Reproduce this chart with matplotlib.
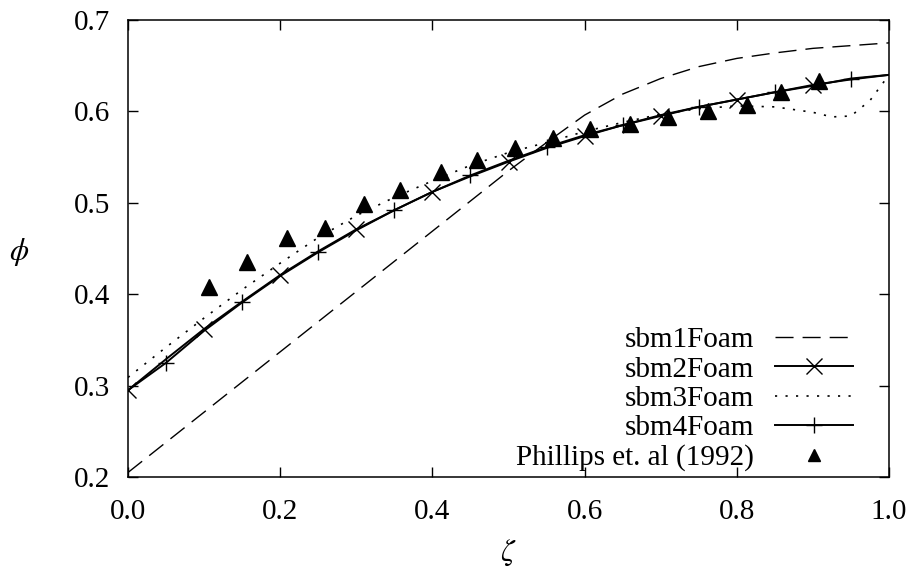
import numpy as np
import matplotlib
matplotlib.use("Agg")
import matplotlib.pyplot as plt
from matplotlib.lines import Line2D

plt.rcParams["font.family"] = "serif"
plt.rcParams["font.serif"] = ["Liberation Serif", "DejaVu Serif"]
plt.rcParams["mathtext.fontset"] = "stix"

# common grid for the model curves (step 0.05)
zeta = np.linspace(0.0, 1.0, 21)

sbm1 = [0.205, 0.238, 0.271, 0.304, 0.337, 0.370, 0.403, 0.436, 0.469, 0.502,
        0.535, 0.566, 0.596, 0.619, 0.636, 0.649, 0.658, 0.664, 0.669, 0.672, 0.675]
sbm2 = [0.295, 0.329, 0.362, 0.392, 0.421, 0.447, 0.471, 0.492, 0.512, 0.529,
        0.545, 0.560, 0.573, 0.585, 0.595, 0.605, 0.613, 0.621, 0.629, 0.635, 0.640]
sbm4 = [0.295, 0.325, 0.360, 0.391, 0.420, 0.446, 0.470, 0.492, 0.512, 0.530,
        0.546, 0.561, 0.574, 0.585, 0.596, 0.605, 0.613, 0.621, 0.628, 0.636, 0.640]

# sbm3 has a wiggle near the wall, so it gets its own grid
zeta3 = [0.0, 0.05, 0.1, 0.15, 0.2, 0.25, 0.3, 0.35, 0.4, 0.45, 0.5, 0.55, 0.6,
         0.65, 0.7, 0.75, 0.8, 0.85, 0.875, 0.9, 0.925, 0.95, 0.975, 1.0]
sbm3 = [0.309, 0.342, 0.374, 0.405, 0.434, 0.462, 0.486, 0.506, 0.524, 0.541,
        0.555, 0.566, 0.578, 0.588, 0.597, 0.603, 0.606, 0.605, 0.602, 0.599,
        0.594, 0.595, 0.612, 0.640]

# experimental data
exp_zeta = [0.107, 0.156, 0.209, 0.259, 0.310, 0.357, 0.411, 0.458, 0.508, 0.559,
            0.607, 0.660, 0.710, 0.762, 0.813, 0.858, 0.908]
exp_phi = [0.408, 0.435, 0.461, 0.473, 0.499, 0.514, 0.534, 0.547, 0.560, 0.571,
           0.581, 0.586, 0.594, 0.600, 0.607, 0.621, 0.633]

labels = ["sbm1Foam", "sbm2Foam", "sbm3Foam", "sbm4Foam", "Phillips et. al (1992)"]

fig = plt.figure(figsize=(9.11, 5.72), dpi=100)
ax = fig.add_axes([0.1405, 0.166, 0.8354, 0.799])

dash = (0, (13, 6.5))
dots = (0, (1.3, 5.0))

ax.plot(zeta, sbm1, color="k", lw=1.0, ls=dash)
ax.plot(zeta, sbm2, color="k", lw=1.4)
ax.plot(zeta[:19:2], sbm2[:19:2], ls="none", marker="x", ms=11, mew=1.0, color="k")
ax.plot(zeta3, sbm3, color="k", lw=1.2, ls=dots)
ax.plot(zeta, sbm4, color="k", lw=1.4)
ax.plot(zeta[1::2], sbm4[1::2], ls="none", marker="+", ms=12, mew=1.0, color="k")
ax.plot(exp_zeta, exp_phi, ls="none", marker="^", ms=11, color="k")

handles = [
    Line2D([], [], color="k", lw=1.0, ls=dash),
    Line2D([], [], color="k", lw=1.4, marker="x", ms=11, mew=1.0),
    Line2D([], [], color="k", lw=1.2, ls=dots),
    Line2D([], [], color="k", lw=1.4, marker="+", ms=12, mew=1.0),
    Line2D([], [], ls="none", marker="^", ms=9, color="k"),
]
ax.legend(handles, labels, loc="lower right", bbox_to_anchor=(0.953, 0.013),
          frameon=False, markerfirst=False, fontsize=21, handlelength=2.7,
          handletextpad=0.7, labelspacing=0.1, borderaxespad=0.0, borderpad=0.0)

ax.set_xlim(0, 1)
ax.set_ylim(0.2, 0.7)
ax.set_xticks(np.arange(0, 1.01, 0.2))
ax.set_yticks(np.arange(0.2, 0.71, 0.1))
ax.set_xticklabels(["0.0", "0.2", "0.4", "0.6", "0.8", "1.0"])
ax.set_yticklabels(["0.2", "0.3", "0.4", "0.5", "0.6", "0.7"])
ax.tick_params(direction="in", top=True, right=True, length=7, width=1.0,
               labelsize=21)
ax.tick_params(axis="x", pad=16)
ax.tick_params(axis="y", pad=13)
for s in ax.spines.values():
    s.set_linewidth(1.1)

fig.text(0.021, 0.559, r"$\phi$", fontsize=22, ha="center", va="center")
fig.text(0.558, 0.033, r"$\zeta$", fontsize=22, ha="center", va="center")

fig.savefig("out.png", dpi=100)
